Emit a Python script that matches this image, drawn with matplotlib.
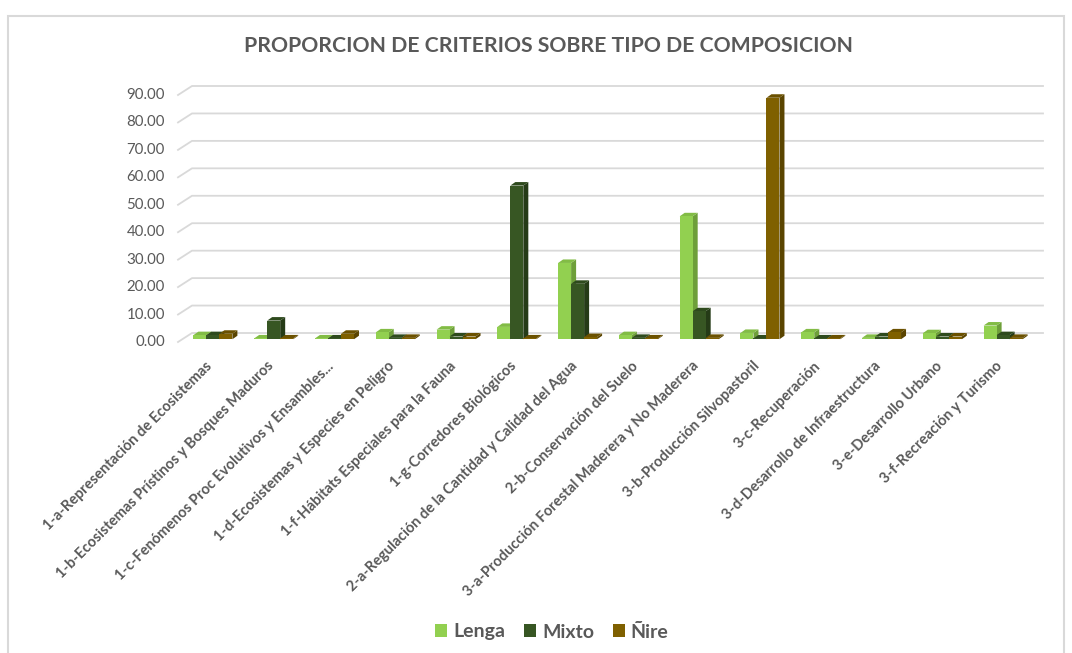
import matplotlib
matplotlib.use("Agg")
import matplotlib.pyplot as plt
from matplotlib.patches import Polygon, Rectangle, Patch
from matplotlib.transforms import offset_copy
from matplotlib.lines import Line2D

plt.rcParams['font.family'] = ['Lato', 'DejaVu Sans']

categories = [
    "1-a-Representación de Ecosistemas",
    "1-b-Ecosistemas Prístinos y Bosques Maduros",
    "1-c-Fenómenos Proc Evolutivos y Ensambles...",
    "1-d-Ecosistemas y Especies en Peligro",
    "1-f-Hábitats Especiales para la Fauna",
    "1-g-Corredores Biológicos",
    "2-a-Regulación de la Cantidad y Calidad del Agua",
    "2-b-Conservación del Suelo",
    "3-a-Producción Forestal Maderera y No Maderera",
    "3-b-Producción Silvopastoril",
    "3-c-Recuperación",
    "3-d-Desarrollo de Infraestructura",
    "3-e-Desarrollo Urbano",
    "3-f-Recreación y Turismo",
]
lenga = [1.5, 0.3, 0.3, 2.5, 3.5, 4.5, 27.8, 1.5, 44.8, 2.3, 2.5, 0.5, 2.2, 5.0]
mixto = [1.5, 6.8, 0.3, 0.5, 1.0, 56.0, 20.2, 0.5, 10.2, 0.3, 0.3, 1.0, 1.0, 1.5]
nire = [2.0, 0.3, 2.0, 0.5, 1.0, 0.3, 0.8, 0.3, 0.5, 88.0, 0.3, 2.5, 1.0, 0.5]
series_names = ["Lenga", "Mixto", "Ñire"]
yticks = [0, 10, 20, 30, 40, 50, 60, 70, 80, 90]

front_colors = ["#92D050", "#375623", "#7F6000"]
side_colors = ["#6E9F3A", "#253B17", "#5A4400"]
top_colors = ["#82BC45", "#2E4A1D", "#6B5100"]
text_gray = "#595959"
grid_gray = "#D9D9D9"

W, H = 1072, 653
fig = plt.figure(figsize=(W / 100, H / 100), dpi=100)

# chart frame
fig.add_artist(Rectangle((8 / W, -0.01), (1064 - 8) / W, (H - 16) / H + 0.01,
                         transform=fig.transFigure, fill=False,
                         edgecolor="#D9D9D9", lw=1.5))

ax_left, ax_right = 178, 1029
y0_px, y90_px = 342, 95
ax = fig.add_axes([ax_left / W, (H - y0_px) / H, (ax_right - ax_left) / W, (y0_px - y90_px) / H])
ax.set_xlim(-0.5, len(categories) - 0.5)
ax.set_ylim(0, 90)
ax.axis("off")

px_x = (len(categories)) / (ax_right - ax_left)   # data units per px (x)
px_y = 90 / (y0_px - y90_px)                     # data units per px (y)

# back wall gridlines with diagonal
gdx, gdy = 14 * px_x, 9 * px_y
x0, x1 = ax.get_xlim()
for v in yticks:
    ax.add_line(Line2D([x0, x0 + gdx, x1 + gdx], [v, v + gdy, v + gdy],
                       color=grid_gray, lw=1.3, clip_on=False, zorder=1))
    ax.text(x0, v, f"{v:.2f}", transform=offset_copy(ax.transData, fig, x=-13, y=0, units='dots'),
            ha="right", va="center", fontsize=10.8, color=text_gray)

# 3D bars
bw = 13 * px_x
bdx, bdy = 5 * px_x, 3.5 * px_y
fx, fy = 4.5 * px_x, 2.75 * px_y
for s, vals in enumerate([lenga, mixto, nire]):
    for i, v in enumerate(vals):
        xl = i + (s - 1) * bw - bw / 2 + fx
        xr = xl + bw
        yb = fy
        yt = fy + v
        z = 3 + s
        ax.add_patch(Polygon([[xr, yb], [xr + bdx, yb + bdy], [xr + bdx, yt + bdy], [xr, yt]],
                             closed=True, facecolor=side_colors[s], edgecolor="none", zorder=z, clip_on=False))
        ax.add_patch(Polygon([[xl, yt], [xr, yt], [xr + bdx, yt + bdy], [xl + bdx, yt + bdy]],
                             closed=True, facecolor=top_colors[s], edgecolor="none", zorder=z, clip_on=False))
        ax.add_patch(Rectangle((xl, yb), bw, v, facecolor=front_colors[s], edgecolor="none",
                               zorder=z + 0.5, clip_on=False))

# category labels
for i, c in enumerate(categories):
    ax.text(i, 0, c, transform=offset_copy(ax.transData, fig, x=-3, y=-17, units='dots'),
            ha="right", va="top", rotation=45, rotation_mode="anchor",
            fontsize=10.5, fontweight="bold", color=text_gray)

fig.text(548 / W, 1 - 46 / H, "PROPORCION DE CRITERIOS SOBRE TIPO DE COMPOSICION",
         ha="center", va="center", fontsize=15.3, fontweight="bold", color=text_gray)

handles = [Patch(facecolor=c, edgecolor="none") for c in front_colors]
fig.legend(handles, series_names, loc="center", bbox_to_anchor=(552 / W, 1 - 632 / H),
           ncol=3, frameon=False, handlelength=0.6, handleheight=0.6, handletextpad=0.3,
           columnspacing=1.0, prop={"size": 14, "weight": "bold"}, labelcolor=text_gray)

fig.savefig("out.png", dpi=100)
